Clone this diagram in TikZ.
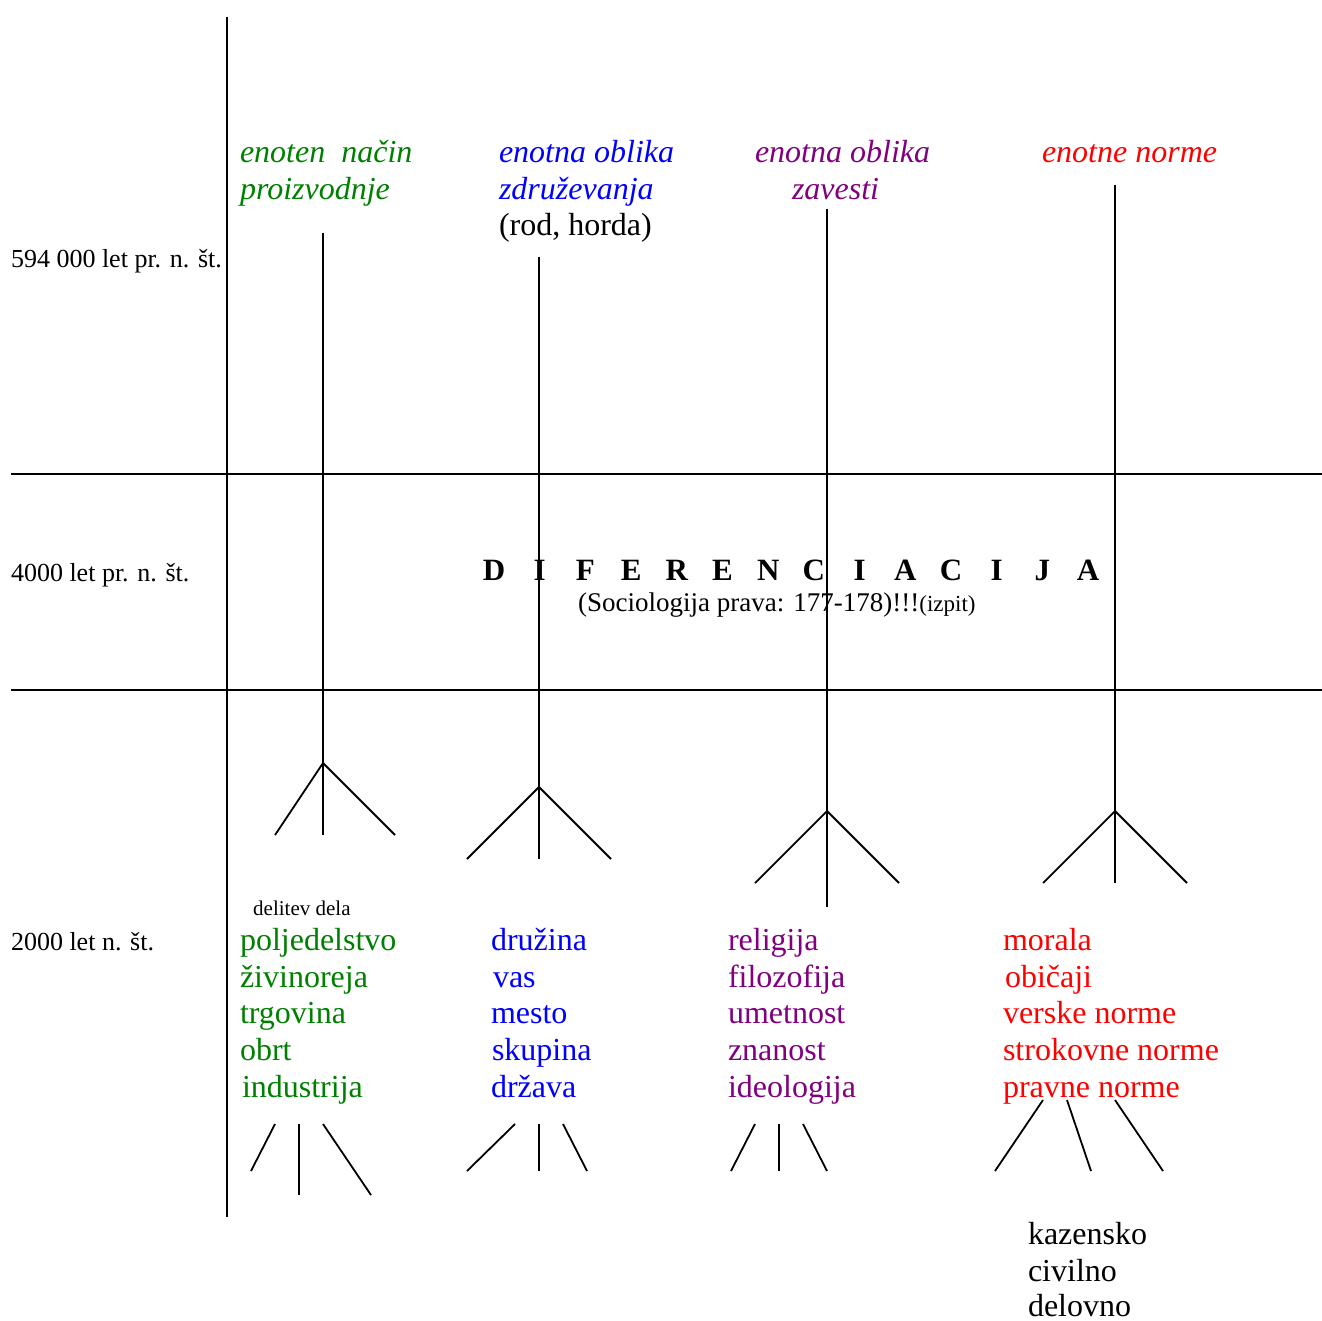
\documentclass[tikz,border=0pt]{standalone}
\usepackage{fontspec}
\setmainfont{Liberation Serif}
\definecolor{cgreen}{RGB}{0,128,0}
\definecolor{cblue}{RGB}{0,0,255}
\definecolor{cpurple}{RGB}{128,0,128}
\definecolor{cred}{RGB}{255,0,0}
\newcommand\difL[1]{\makebox[45.7pt]{#1}}
\begin{document}
\begin{tikzpicture}[x=1pt,y=-1pt,
 ln/.style={line width=1.8pt},
 txt/.style={anchor=base west, inner sep=0pt, outer sep=0pt, font=\fontsize{32}{37}\selectfont},
 hdr/.style={anchor=base west, inner sep=0pt, outer sep=0pt, font=\fontsize{32}{37}\selectfont\itshape},
 lbl/.style={anchor=base west, inner sep=0pt, outer sep=0pt, font=\fontsize{26}{30}\selectfont},
]
\useasboundingbox (0,0) rectangle (1322,1320);

% axis and period lines
\coordinate (axT) at (227,17);
\coordinate (axB) at (227,1217);
\coordinate (h1L) at (11,474);
\coordinate (h1R) at (1322,474);
\coordinate (h2L) at (11,690);
\coordinate (h2R) at (1322,690);
\draw[ln] (axT) -- (axB);
\draw[ln] (h1L) -- (h1R);
\draw[ln] (h2L) -- (h2R);

% period labels
\node[lbl] (p1) at (11,267) {594 000 let pr. n. št.};
\node[lbl] (p2) at (11,581) {4000 let pr. n. št.};
\node[lbl] (p3) at (11,950) {2000 let n. št.};

% headers
\node[hdr, text=cgreen] (g1) at (240,162) {enoten\ \ način};
\node[hdr, text=cgreen] (g2) at (240,199) {proizvodnje};
\node[hdr, text=cblue] (b1) at (499,162) {enotna oblika};
\node[hdr, text=cblue] (b2) at (499,199) {združevanja};
\node[txt] (b3) at (499,235) {(rod, horda)};
\node[hdr, text=cpurple] (v1) at (755,162) {enotna oblika};
\node[hdr, text=cpurple] (v2) at (792,199) {zavesti};
\node[hdr, text=cred] (r1) at (1042,162) {enotne norme};

% differentiation
\node[anchor=base west, inner sep=0pt, font=\fontsize{31}{35}\selectfont\bfseries] (dif) at (471,580)
 {\difL{D}\difL{I}\difL{F}\difL{E}\difL{R}\difL{E}\difL{N}\difL{C}\difL{I}\difL{A}\difL{C}\difL{I}\difL{J}\difL{A}};
\node[anchor=base west, inner sep=0pt, font=\fontsize{27}{31}\selectfont] (soc) at (578,611)
 {(Sociologija prava: 177-178)!!!{\fontsize{23}{27}\selectfont(izpit)}};

% trees
\coordinate (t1) at (323,233); \coordinate (k1) at (323,763);
\coordinate (l1) at (275,835); \coordinate (m1) at (323,835); \coordinate (r1e) at (395,835);
\coordinate (t2) at (539,257); \coordinate (k2) at (539,787);
\coordinate (l2) at (467,859); \coordinate (m2) at (539,859); \coordinate (r2e) at (611,859);
\coordinate (t3) at (827,209); \coordinate (k3) at (827,811);
\coordinate (l3) at (755,883); \coordinate (m3) at (827,907); \coordinate (r3e) at (899,883);
\coordinate (t4) at (1115,185); \coordinate (k4) at (1115,811);
\coordinate (l4) at (1043,883); \coordinate (m4) at (1115,883); \coordinate (r4e) at (1187,883);
\foreach \i in {1,2,3,4}{
  \draw[ln] (t\i) -- (k\i);
  \draw[ln] (k\i) -- (l\i);
  \draw[ln] (k\i) -- (m\i);
  \draw[ln] (k\i) -- (r\i e);
}

% lists
\node[anchor=base west, inner sep=0pt, font=\fontsize{21}{24}\selectfont] (dd) at (253,915) {delitev dela};
\node[txt, text=cgreen] (a1) at (240,950) {poljedelstvo};
\node[txt, text=cgreen] (a2) at (240,987) {živinoreja};
\node[txt, text=cgreen] (a3) at (240,1023) {trgovina};
\node[txt, text=cgreen] (a4) at (240,1060) {obrt};
\node[txt, text=cgreen] (a5) at (242,1097) {industrija};

\node[txt, text=cblue] (c1) at (491,950) {družina};
\node[txt, text=cblue] (c2) at (493,987) {vas};
\node[txt, text=cblue] (c3) at (491,1023) {mesto};
\node[txt, text=cblue] (c4) at (492,1060) {skupina};
\node[txt, text=cblue] (c5) at (491,1097) {država};

\node[txt, text=cpurple] (e1) at (728,950) {religija};
\node[txt, text=cpurple] (e2) at (728,987) {filozofija};
\node[txt, text=cpurple] (e3) at (728,1023) {umetnost};
\node[txt, text=cpurple] (e4) at (728,1060) {znanost};
\node[txt, text=cpurple] (e5) at (728,1097) {ideologija};

\node[txt, text=cred] (n1) at (1003,950) {morala};
\node[txt, text=cred] (n2) at (1005,987) {običaji};
\node[txt, text=cred] (n3) at (1003,1023) {verske norme};
\node[txt, text=cred] (n4) at (1003,1060) {strokovne norme};
\node[txt, text=cred] (n5) at (1003,1097) {pravne norme};

\node[txt] (z1) at (1028,1244) {kazensko};
\node[txt] (z2) at (1028,1281) {civilno};
\node[txt] (z3) at (1028,1316) {delovno};

% bottom fans
\coordinate (f1a) at (275,1124); \coordinate (f1b) at (251,1171);
\coordinate (f1c) at (299,1124); \coordinate (f1d) at (299,1195);
\coordinate (f1e) at (323,1124); \coordinate (f1f) at (371,1195);
\coordinate (f2a) at (515,1124); \coordinate (f2b) at (467,1171);
\coordinate (f2c) at (539,1124); \coordinate (f2d) at (539,1171);
\coordinate (f2e) at (563,1124); \coordinate (f2f) at (587,1171);
\coordinate (f3a) at (755,1124); \coordinate (f3b) at (731,1171);
\coordinate (f3c) at (779,1124); \coordinate (f3d) at (779,1171);
\coordinate (f3e) at (803,1124); \coordinate (f3f) at (827,1171);
\coordinate (f4a) at (1043,1100); \coordinate (f4b) at (995,1171);
\coordinate (f4c) at (1067,1100); \coordinate (f4d) at (1091,1171);
\coordinate (f4e) at (1115,1100); \coordinate (f4f) at (1163,1171);
\foreach \i in {1,2,3,4}{
  \draw[ln] (f\i a) -- (f\i b);
  \draw[ln] (f\i c) -- (f\i d);
  \draw[ln] (f\i e) -- (f\i f);
}
\end{tikzpicture}
\end{document}
